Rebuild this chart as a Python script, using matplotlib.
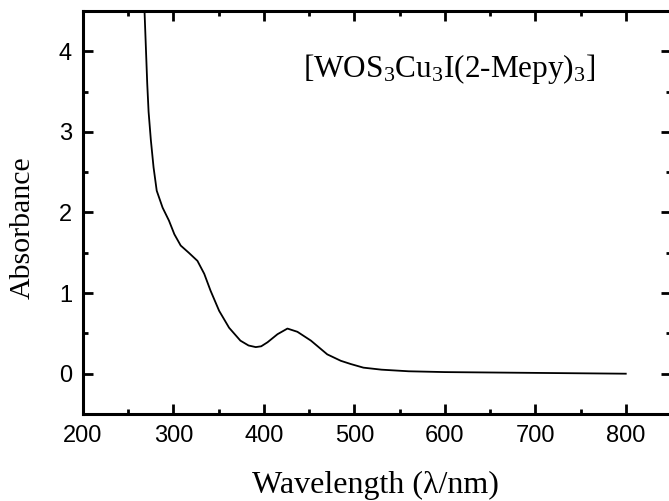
import matplotlib
matplotlib.use("Agg")
import matplotlib.pyplot as plt
from matplotlib.ticker import MultipleLocator

wavelength = [266, 268, 269.5, 271, 272.5, 275, 278, 281.5, 288, 295, 301, 308, 317,
              326.5, 334, 341, 350.5, 361.5, 374, 383, 391, 397, 404, 415, 426, 437,
              452, 470, 485, 496, 510, 530, 560, 600, 650, 700, 750, 800]
absorbance = [4.9, 4.5, 4.05, 3.6, 3.25, 2.9, 2.56, 2.27, 2.06, 1.90, 1.73, 1.59, 1.50,
              1.40, 1.24, 1.03, 0.78, 0.57, 0.41, 0.35, 0.33, 0.34, 0.39, 0.49, 0.56, 0.52,
              0.41, 0.24, 0.16, 0.12, 0.075, 0.05, 0.03, 0.02, 0.015, 0.01, 0.005, 0.0]
xticks = [200, 300, 400, 500, 600, 700, 800]
yticks = [0, 1, 2, 3, 4]
label_text = r'[WOS$_3$Cu$_3$I(2-Mepy)$_3$]'

plt.rcParams['mathtext.fontset'] = 'custom'
plt.rcParams['mathtext.rm'] = 'Liberation Serif'
plt.rcParams['mathtext.it'] = 'Liberation Serif'

fig = plt.figure(figsize=(6.69, 5.01), dpi=100)
ax = fig.add_axes([83/669, 1 - 414/501, (671 - 83)/669, (414 - 11)/501])
ax.plot(wavelength, absorbance, color='black', lw=1.3)
ax.set_xlim(200, 850)
ax.set_ylim(-0.5, 4.5)
ax.set_xticks(xticks)
ax.set_yticks(yticks)
ax.xaxis.set_minor_locator(MultipleLocator(50))
ax.yaxis.set_minor_locator(MultipleLocator(0.5))
for s in ax.spines.values():
    s.set_linewidth(2.2)
ax.tick_params(which='both', direction='in', top=True, right=True, width=2.0)
ax.tick_params(which='major', length=7, labelsize=17, pad=8)
ax.tick_params(which='minor', length=3.5)
for lab in ax.get_xticklabels() + ax.get_yticklabels():
    lab.set_fontfamily('Liberation Sans')

ax.set_xlabel('Wavelength (λ/nm)', fontfamily='Liberation Serif', fontsize=23)
ax.set_ylabel('Absorbance', fontfamily='Liberation Serif', fontsize=21.5)
ax.xaxis.set_label_coords(0.4975, -0.196)
ax.xaxis.label.set_verticalalignment('baseline')
ax.yaxis.set_label_coords(-0.102, 0.463)
ax.yaxis.label.set_verticalalignment('center')
ax.text(443, 3.68, label_text, fontfamily='Liberation Serif', fontsize=22.5,
        transform=ax.transData, ha='left', va='baseline')

fig.savefig('out.png', dpi=100)
